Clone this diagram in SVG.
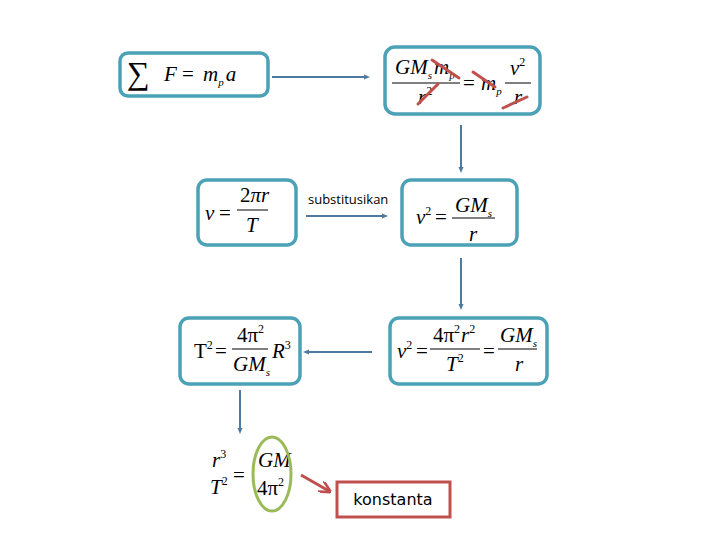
<svg xmlns="http://www.w3.org/2000/svg" width="720" height="540" viewBox="0 0 720 540">
<defs>
<marker id="dot" viewBox="0 0 6 6" refX="3" refY="3" markerWidth="6" markerHeight="6" markerUnits="userSpaceOnUse" orient="auto"><path d="M0,0.5 L6,3 L0,5.5 Z" fill="#4f7aa0"/></marker>
<marker id="red" viewBox="0 0 10 10" refX="8" refY="5" markerWidth="12" markerHeight="12" markerUnits="userSpaceOnUse" orient="auto"><path d="M0,0 L10,5 L0,10" fill="none" stroke="#c0504d" stroke-width="2.2"/></marker>
</defs>
<style>
.box{fill:#fff;stroke:#4ba1b5;stroke-width:3.5}
.m{font-family:"Liberation Serif",serif;font-style:italic;font-size:21px;fill:#000}
.u{font-style:normal}
.sub{font-size:11px}
.sup{font-size:12px}
.bar{stroke:#000;stroke-width:1}
.con{stroke:#4f7aa0;stroke-width:2;fill:none;marker-end:url(#dot)}
.cross{stroke:#c0504d;stroke-width:3;stroke-linecap:round}
</style>
<rect width="720" height="540" fill="#fff"/>
<g id="connectors">
<line class="con" x1="272" y1="77" x2="367" y2="77"/>
<line class="con" x1="461" y1="125" x2="461" y2="170"/>
<line class="con" x1="306" y1="216" x2="385" y2="216"/>
<line class="con" x1="461" y1="258" x2="461" y2="307"/>
<line class="con" x1="372" y1="352" x2="306" y2="352"/>
<line class="con" x1="240" y1="390" x2="240" y2="431"/>
<line x1="301" y1="475" x2="329" y2="491" stroke="#c0504d" stroke-width="3" marker-end="url(#red)"/>
<text x="308" y="204" font-family="Open Sans, sans-serif" font-size="13" fill="#000">substitusikan</text>
</g>
<g id="node1">
<rect class="box" x="120" y="53" width="148" height="43" rx="8"/>
<text x="127" y="84" font-family="Liberation Serif,serif" font-size="32">∑</text>
<text class="m" x="164" y="81">F</text>
<text class="m u" x="182" y="81">=</text>
<text class="m" x="203" y="81">m<tspan class="sub" dy="5">p</tspan><tspan dy="-5" dx="2">a</tspan></text>
</g>
<g id="node2">
<rect class="box" x="385" y="47" width="155" height="67" rx="10"/>
<text class="m" x="395" y="74">GM<tspan class="sub" dy="5">s</tspan><tspan dy="-5" dx="2">m</tspan><tspan class="sub" dy="5">p</tspan></text>
<line class="bar" x1="392" y1="83" x2="460" y2="83"/>
<text class="m" x="418" y="104">r<tspan class="sup u" dy="-9">2</tspan></text>
<text class="m u" x="463" y="90">=</text>
<text class="m" x="481" y="90">m<tspan class="sub" dy="5">p</tspan></text>
<text class="m" x="510" y="75">v<tspan class="sup u" dy="-9">2</tspan></text>
<line class="bar" x1="505" y1="83" x2="531" y2="83"/>
<text class="m" x="514" y="104">r</text>
<line class="cross" x1="432" y1="60" x2="459" y2="78"/>
<line class="cross" x1="418" y1="104" x2="438" y2="84"/>
<line class="cross" x1="473" y1="72" x2="495" y2="87"/>
<line class="cross" x1="503" y1="108" x2="527" y2="97"/>
</g>
<g id="node3">
<rect class="box" x="198" y="180" width="98" height="65" rx="9"/>
<text class="m" x="205" y="220">v</text>
<text class="m u" x="219" y="220">=</text>
<text class="m" x="240" y="202"><tspan class="u">2</tspan>πr</text>
<line class="bar" x1="237" y1="210" x2="268" y2="210"/>
<text class="m" x="246" y="232">T</text>
</g>
<g id="node4">
<rect class="box" x="402" y="180" width="115" height="65" rx="9"/>
<text class="m" x="416" y="224">v<tspan class="sup u" dy="-9">2</tspan></text>
<text class="m u" x="435" y="224">=</text>
<text class="m" x="455" y="212">GM<tspan class="sub" dy="5">s</tspan></text>
<line class="bar" x1="452" y1="218" x2="495" y2="218"/>
<text class="m" x="469" y="241">r</text>
</g>
<g id="node5">
<rect class="box" x="180" y="318" width="120" height="66" rx="9"/>
<text class="m u" x="194" y="358">T<tspan class="sup" dy="-9">2</tspan></text>
<text class="m u" x="215" y="358">=</text>
<text class="m u" x="237" y="342">4π<tspan class="sup" dy="-9">2</tspan></text>
<line class="bar" x1="232" y1="349" x2="268" y2="349"/>
<text class="m" x="233" y="371">GM<tspan class="sub" dy="5">s</tspan></text>
<text class="m" x="272" y="358">R<tspan class="sup u" dy="-9">3</tspan></text>
</g>
<g id="node6">
<rect class="box" x="390" y="318" width="157" height="66" rx="9"/>
<text class="m" x="397" y="358">v<tspan class="sup u" dy="-9">2</tspan></text>
<text class="m u" x="416" y="358" fill="#666">=</text>
<text class="m" x="433" y="342"><tspan class="u">4π</tspan><tspan class="sup u" dy="-9">2</tspan><tspan dy="9" dx="1">r</tspan><tspan class="sup u" dy="-9">2</tspan></text>
<line class="bar" x1="430" y1="349" x2="480" y2="349"/>
<text class="m" x="446" y="371">T<tspan class="sup u" dy="-9">2</tspan></text>
<text class="m u" x="483" y="358" fill="#666">=</text>
<text class="m" x="500" y="342">GM<tspan class="sub" dy="5">s</tspan></text>
<line class="bar" x1="498" y1="349" x2="537" y2="349"/>
<text class="m" x="515" y="371">r</text>
</g>
<g id="node7">
<text class="m" x="212" y="467">r<tspan class="sup u" dy="-9">3</tspan></text>
<text class="m" x="210" y="494">T<tspan class="sup u" dy="-9">2</tspan></text>
<text class="m u" x="233" y="482" font-size="26">=</text>
<text class="m" x="258" y="467">GM</text>
<text class="m u" x="257" y="495">4π<tspan class="sup" dy="-9">2</tspan></text>
<ellipse cx="272" cy="474" rx="19" ry="37" fill="none" stroke="#9bbb59" stroke-width="3"/>
</g>
<g id="node8">
<rect x="337" y="482" width="113" height="35" fill="#fff" stroke="#c0504d" stroke-width="3"/>
<text x="393" y="505" text-anchor="middle" font-family="DejaVu Sans, sans-serif" font-size="16" fill="#000">konstanta</text>
</g>
</svg>
